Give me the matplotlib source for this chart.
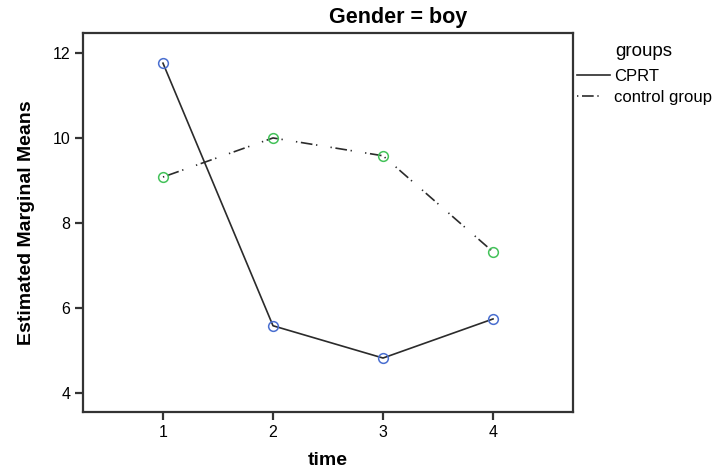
import numpy as np
import matplotlib.pyplot as plt
from matplotlib.lines import Line2D

plt.rcParams['font.family'] = ['Liberation Sans', 'DejaVu Sans']

# estimated marginal means, Gender = boy
time = [1, 2, 3, 4]
cprt = [11.76, 5.58, 4.82, 5.74]
control = [9.08, 10.0, 9.58, 7.32]
groups = ["CPRT", "control group"]

fig = plt.figure(figsize=(7.19, 4.73), dpi=100)
ax = fig.add_axes([83/719, 1 - 412/473, 490/719, 379/473])

dashdot = (0.8, 2.2, 7, 2.2, 0.8, 8)
ax.plot(time, cprt, '-', color='#2b2b2b', lw=1.2, zorder=2)
ax.plot(time, control, color='#2b2b2b', lw=1.2, dashes=dashdot, zorder=2)
ax.plot(time, cprt, 'o', ms=7, mfc='none', mec='#4a6fd0', mew=1.1, zorder=3)
ax.plot(time, control, 'o', ms=7, mfc='none', mec='#44c25a', mew=1.1, zorder=3)

ax.set_xlim(0.273, 4.727)
ax.set_ylim(3.55, 12.47)
ax.set_xticks(time)
ax.set_yticks([4, 6, 8, 10, 12])
for s in ax.spines.values():
    s.set_linewidth(1.6)
    s.set_color('#333333')
ax.tick_params(length=6, width=1.6, color='#333333', labelsize=11.5, pad=3)

ax.set_xlabel("time", fontsize=14, fontweight='bold', va='center')
ax.xaxis.set_label_coords(0.5, -(460 - 412) / 379)
ax.set_ylabel("Estimated Marginal Means", fontsize=14, fontweight='bold', va='center')
ax.yaxis.set_label_coords(-(83 - 27) / 490, 0.5)
fig.text(398/719, 1 - 18/473, "Gender = boy", fontsize=15.5, fontweight='bold',
         ha='center', va='center')

# legend outside the axes, SPSS style
fig.text(615/719, 1 - 52/473, "groups", fontsize=13.5, ha='left', va='center')
handles = [Line2D([], [], color='#2b2b2b', lw=1.2),
           Line2D([], [], color='#2b2b2b', lw=1.2, dashes=dashdot)]
leg = fig.legend(handles, groups, loc='upper left',
                 bbox_to_anchor=(577/719, 1 - 69/473), frameon=False,
                 fontsize=12, handlelength=2.0,
                 handletextpad=0.2, labelspacing=0.38, borderaxespad=0,
                 borderpad=0)

fig.savefig("out.png", dpi=100)
